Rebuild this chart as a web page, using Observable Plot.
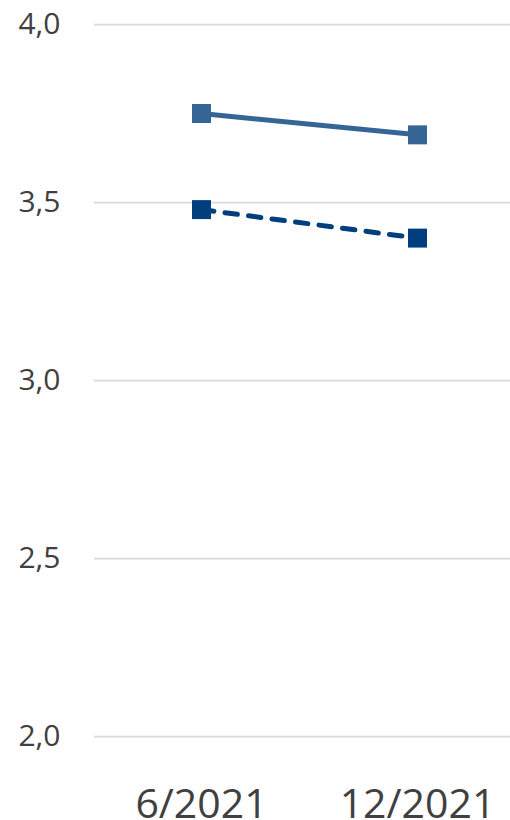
<!DOCTYPE html>
<html>
<head>
<meta charset="utf-8">
<script src="https://cdn.jsdelivr.net/npm/d3@7"></script>
<script src="https://cdn.jsdelivr.net/npm/@observablehq/plot@0.6"></script>
<style>
  html, body { margin: 0; padding: 0; background: #fff; }
  #chart svg { display: block; }
</style>
</head>
<body>
<div id="chart"></div>
<script>
const periods = ["6/2021", "12/2021"];
const seriesSolid = [3.75, 3.69];
const seriesDashed = [3.48, 3.40];
const yTicks = [2.0, 2.5, 3.0, 3.5, 4.0];

const solidRows = periods.map((p, i) => ({period: p, value: seriesSolid[i]}));
const dashedRows = periods.map((p, i) => ({period: p, value: seriesDashed[i]}));

const fmt = v => v.toFixed(1).replace(".", ",");

const chart = Plot.plot({
  width: 510,
  height: 820,
  marginLeft: 94,
  marginRight: 0,
  marginTop: 24,
  marginBottom: 84,
  style: {fontFamily: "'Open Sans', 'Noto Sans', sans-serif", color: "#404040", background: "#fff"},
  x: {type: "point", domain: periods, range: [201, 417], padding: 0, label: null},
  y: {domain: [2, 4], label: null},
  marks: [
    Plot.ruleY(yTicks, {stroke: "#d9d9d9", strokeWidth: 1.75}),
    Plot.axisY({ticks: yTicks, tickFormat: fmt, tickSize: 0, tickPadding: 34, fontSize: 30, fill: "#404040"}),
    Plot.axisX({tickSize: 0, tickPadding: 52, fontSize: 41, fill: "#404040"}),
    Plot.line(solidRows, {x: "period", y: "value", stroke: "#356594", strokeWidth: 5}),
    Plot.line(dashedRows, {x: "period", y: "value", stroke: "#013e7d", strokeWidth: 5, strokeDasharray: "12.5,11.2", strokeLinecap: "round"}),
    Plot.dot(solidRows, {x: "period", y: "value", symbol: "square", r: 10.7, fill: "#356594", stroke: null}),
    Plot.dot(dashedRows, {x: "period", y: "value", symbol: "square", r: 10.7, fill: "#013e7d", stroke: null})
  ]
});
document.getElementById("chart").appendChild(chart);
</script>
</body>
</html>
